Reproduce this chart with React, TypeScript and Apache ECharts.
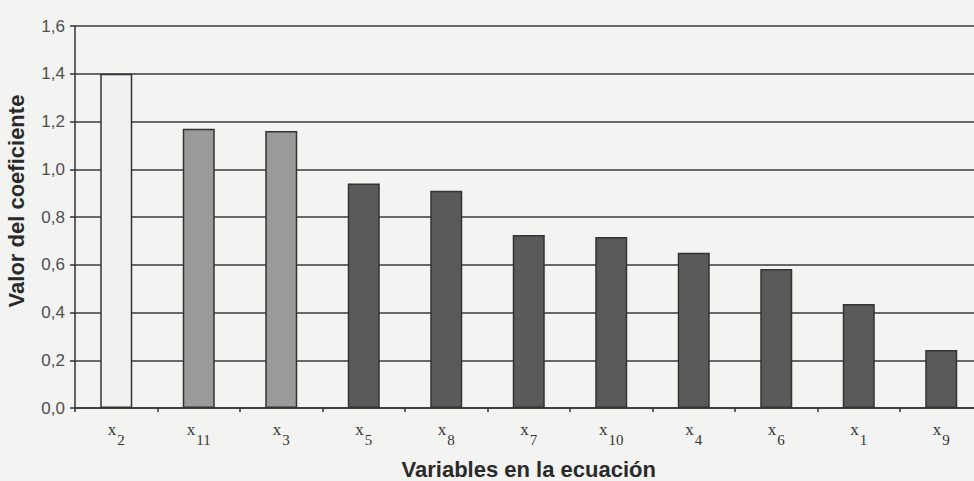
import React, { useEffect, useRef } from "react";
import * as echarts from "echarts";

const categories = ["2", "11", "3", "5", "8", "7", "10", "4", "6", "1", "9"];
const values = [1.4, 1.17, 1.16, 0.94, 0.91, 0.725, 0.716, 0.65, 0.582, 0.436, 0.243];
const groups = [0, 1, 1, 2, 2, 2, 2, 2, 2, 2, 2];
const yTicks = [0, 0.2, 0.4, 0.6, 0.8, 1.0, 1.2, 1.4, 1.6];

const groupColors = ["#f1f1f1", "#9a9a9a", "#5a5a5a"];

export default function App() {
  const ref = useRef<HTMLDivElement>(null);
  useEffect(() => {
    document.body.style.background = "#f3f3f2";
    const chart = echarts.init(ref.current!, undefined, { renderer: "svg" });
    chart.setOption({
      animation: false,
      backgroundColor: "#f3f3f2",
      grid: {
        left: 75,
        top: 26,
        bottom: 73,
        right: -8.5,
        containLabel: false,
        outerBoundsMode: "none",
      },
      xAxis: {
        type: "category",
        data: categories,
        name: "Variables en la ecuación",
        nameLocation: "middle",
        nameGap: 50,
        nameTextStyle: {
          fontFamily: "Liberation Sans, Arial, sans-serif",
          fontWeight: "bold",
          fontSize: 22,
          color: "#2a2a2a",
        },
        axisLine: { lineStyle: { color: "#333", width: 1.5 } },
        axisTick: { show: true, length: 4, lineStyle: { color: "#333", width: 1.5 } },
        axisLabel: {
          margin: 13,
          formatter: (v: string) => `{x|x}{s|${v}}`,
          rich: {
            x: {
              fontFamily: "Liberation Serif, Times New Roman, serif",
              fontSize: 17,
              lineHeight: 17,
              verticalAlign: "top",
              color: "#333",
            },
            s: {
              fontFamily: "Liberation Serif, Times New Roman, serif",
              fontSize: 15,
              lineHeight: 15,
              verticalAlign: "top",
              color: "#333",
              padding: [11, 0, 0, 1],
            },
          },
        },
      },
      yAxis: {
        type: "value",
        min: yTicks[0],
        max: yTicks[yTicks.length - 1],
        interval: 0.2,
        name: "Valor del coeficiente",
        nameLocation: "middle",
        nameGap: 48,
        nameTextStyle: {
          fontFamily: "Liberation Sans, Arial, sans-serif",
          fontWeight: "bold",
          fontSize: 22,
          color: "#2a2a2a",
          padding: [0, 0, 0, 32],
        },
        axisLine: { show: true, lineStyle: { color: "#333", width: 1.5 } },
        axisTick: { show: true, length: 5, lineStyle: { color: "#333", width: 1.5 } },
        axisLabel: {
          margin: 10,
          fontFamily: "Liberation Sans, Arial, sans-serif",
          fontSize: 17,
          color: "#4f4f4f",
          formatter: (v: number) => v.toFixed(1).replace(".", ","),
        },
        splitLine: { show: true, lineStyle: { color: "#3a3a3a", width: 1.5 } },
      },
      series: [
        {
          type: "bar",
          barWidth: 32,
          data: values.map((v, i) => ({
            value: v,
            itemStyle: {
              color: groupColors[groups[i]],
              borderColor: "#333",
              borderWidth: 1.5,
            },
          })),
        },
      ],
    });
    return () => chart.dispose();
  }, []);
  return (
    <div
      ref={ref}
      style={{ position: "fixed", left: 0, top: 0, width: 974, height: 481 }}
    />
  );
}
